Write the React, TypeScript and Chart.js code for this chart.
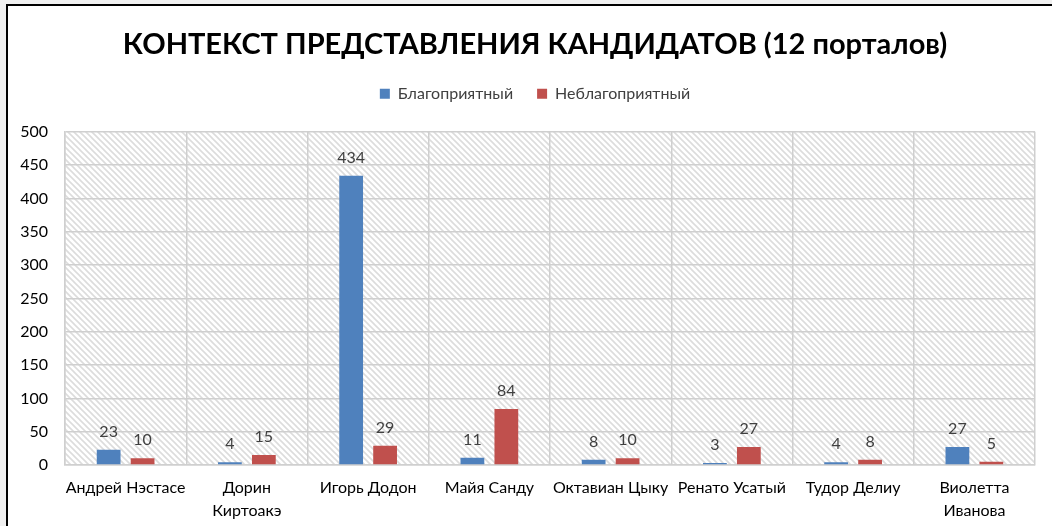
import React, { useEffect, useRef } from "react";
import { Chart, registerables } from "chart.js";

Chart.register(...registerables);

const TITLE = "КОНТЕКСТ ПРЕДСТАВЛЕНИЯ КАНДИДАТОВ (12 порталов)";
const CATEGORIES: (string | string[])[] = [
  "Андрей Нэстасе",
  ["Дорин", "Киртоакэ"],
  "Игорь Додон",
  "Майя Санду",
  "Октавиан Цыку",
  "Ренато Усатый",
  "Тудор Делиу",
  ["Виолетта", "Иванова"],
];
const SERIES_NAMES = ["Благоприятный", "Неблагоприятный"];
const FAVORABLE = [23, 4, 434, 11, 8, 3, 4, 27];
const UNFAVORABLE = [10, 15, 29, 84, 10, 27, 8, 5];
const Y_MAX = 500;
const Y_STEP = 50;

const FONT = "Lato, 'Open Sans', sans-serif";

function makePattern(): CanvasPattern | string {
  const s = 6;
  const c = document.createElement("canvas");
  c.width = s;
  c.height = s;
  const x = c.getContext("2d");
  if (!x) return "#ffffff";
  x.fillStyle = "#ffffff";
  x.fillRect(0, 0, s, s);
  x.strokeStyle = "#dcdcdc";
  x.lineWidth = 1.6;
  x.beginPath();
  for (const off of [-s, 0, s]) {
    x.moveTo(off - 1, -1);
    x.lineTo(off + s + 1, s + 1);
  }
  x.stroke();
  const p = x.createPattern(c, "repeat");
  return p || "#ffffff";
}

const hatchPlugin = {
  id: "hatchBg",
  beforeUpdate(chart: any) {
    const lg = chart.legend;
    if (lg && !lg._extraPatched) {
      const orig = lg.fit.bind(lg);
      lg.fit = function () {
        orig();
        this.height += 20;
      };
      lg._extraPatched = true;
    }
  },
  beforeDraw(chart: any) {
    const { ctx, chartArea } = chart;
    if (!chartArea) return;
    ctx.save();
    ctx.fillStyle = makePattern();
    ctx.fillRect(chartArea.left, chartArea.top, chartArea.right - chartArea.left, chartArea.bottom - chartArea.top);
    ctx.restore();
  },
};

const labelPlugin = {
  id: "valueLabels",
  afterDatasetsDraw(chart: any) {
    const { ctx } = chart;
    ctx.save();
    ctx.font = `16px ${FONT}`;
    ctx.fillStyle = "#404040";
    ctx.textAlign = "center";
    ctx.textBaseline = "alphabetic";
    chart.data.datasets.forEach((ds: any, di: number) => {
      const meta = chart.getDatasetMeta(di);
      meta.data.forEach((bar: any, i: number) => {
        ctx.fillText(String(ds.data[i]), bar.x, bar.y - 13);
      });
    });
    ctx.restore();
  },
};

export default function App() {
  const ref = useRef<HTMLCanvasElement | null>(null);

  useEffect(() => {
    document.body.style.margin = "0";
    if (!ref.current) return;
    const chart = new Chart(ref.current, {
      type: "bar",
      data: {
        labels: CATEGORIES,
        datasets: [
          {
            label: SERIES_NAMES[0],
            data: FAVORABLE,
            backgroundColor: "#4F81BD",
            categoryPercentage: 0.56,
            barPercentage: 0.7,
          },
          {
            label: SERIES_NAMES[1],
            data: UNFAVORABLE,
            backgroundColor: "#C0504D",
            categoryPercentage: 0.56,
            barPercentage: 0.7,
          },
        ],
      },
      options: {
        animation: false,
        responsive: false,
        maintainAspectRatio: false,
        layout: { padding: { left: 0, right: 0, top: 0, bottom: 0 } },
        plugins: {
          title: {
            display: true,
            text: TITLE,
            color: "#000000",
            font: { family: FONT, size: 29, weight: "bold" },
            padding: { top: 21, bottom: 0 },
          },
          legend: {
            display: true,
            position: "top",
            labels: {
              boxWidth: 10,
              boxHeight: 10,
              color: "#404040",
              font: { family: FONT, size: 16 },
              padding: 24,
            },
          },
          tooltip: { enabled: false },
        },
        scales: {
          x: {
            grid: { display: true, offset: true, color: "#cfcfcf", lineWidth: 1.5, drawTicks: false },
            border: { display: true, color: "#cfcfcf", width: 1.5 },
            afterFit: (scale: any) => {
              scale.height = 61;
            },
            ticks: {
              color: "#000000",
              font: { family: FONT, size: 16, lineHeight: 1.4 },
              padding: 12,
              maxRotation: 0,
              autoSkip: false,
            },
          },
          y: {
            min: 0,
            max: Y_MAX,
            grid: { color: "#cfcfcf", lineWidth: 1.5, drawTicks: false },
            border: { display: true, color: "#cfcfcf", width: 1.5 },
            afterFit: (scale: any) => {
              scale.width = 57;
            },
            ticks: {
              stepSize: Y_STEP,
              color: "#000000",
              font: { family: FONT, size: 16 },
              padding: 17,
            },
          },
          yRightSpace: {
            type: "linear",
            position: "right",
            display: true,
            grid: { display: false, drawTicks: false },
            border: { display: false },
            ticks: { display: false },
            afterFit: (scale: any) => {
              scale.width = 27;
            },
          },
        },
      },
      plugins: [hatchPlugin, labelPlugin],
    });
    return () => chart.destroy();
  }, []);

  return (
    <div style={{ position: "fixed", left: 0, top: 0, width: 1052, height: 526, background: "#f0f0f0", overflow: "hidden" }}>
      <div
        style={{
          position: "absolute",
          left: 6,
          top: 4,
          width: 1056,
          height: 522,
          borderLeft: "2px solid #000",
          borderTop: "2px solid #000",
          background: "#ffffff",
        }}
      >
        <canvas ref={ref} width={1054} height={520} style={{ display: "block" }} />
      </div>
    </div>
  );
}
